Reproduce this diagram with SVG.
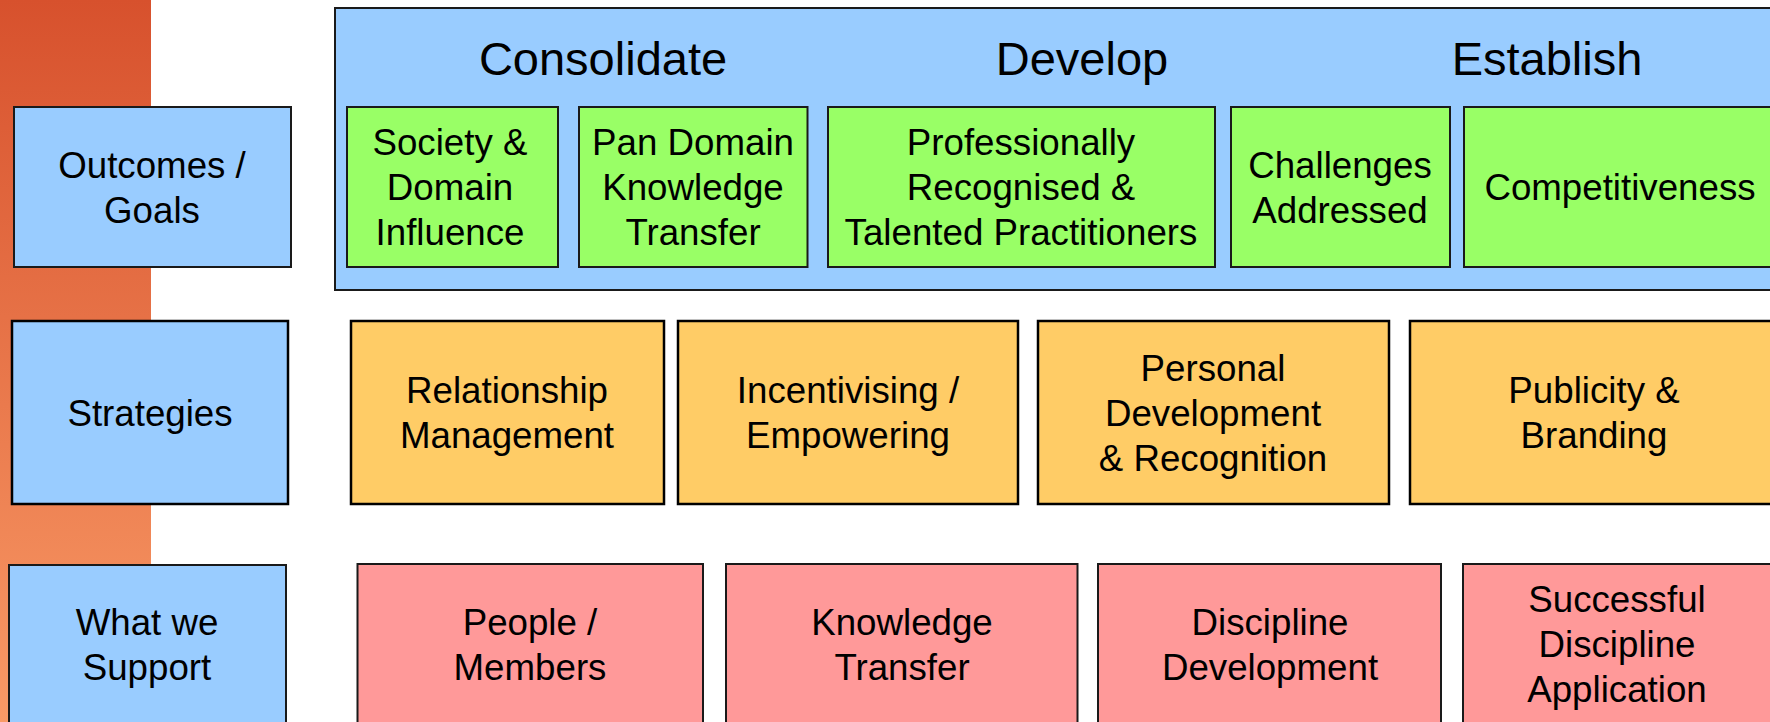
<svg xmlns="http://www.w3.org/2000/svg" width="1770" height="722" viewBox="0 0 1770 722">
<defs>
<linearGradient id="bar" x1="0" y1="0" x2="0" y2="1">
<stop offset="0" stop-color="#D7512D"/>
<stop offset="1" stop-color="#F99A66"/>
</linearGradient>
</defs>
<style>
text{font-family:"Liberation Sans",Arial,sans-serif;font-size:36.7px;fill:#000;text-anchor:middle}
.h{font-size:47px}
.blue{fill:#99CCFF;stroke:#1a1a1a;stroke-width:2}
.green{fill:#99FF66;stroke:#1a1a1a;stroke-width:2}
.orange{fill:#FFCC66;stroke:#000;stroke-width:2.5}
.red{fill:#FF9999;stroke:#1a1a1a;stroke-width:2}
</style>
<rect width="1770" height="722" fill="#fff"/>
<rect x="0" y="0" width="151" height="722" fill="url(#bar)"/>

<g id="label-outcomes"><rect class="blue" x="14" y="107" width="277" height="160"/><text x="152" y="177.5">Outcomes /</text><text x="152" y="222.5">Goals</text></g>
<g id="label-strategies"><rect class="blue" x="12" y="321" width="276" height="183" style="stroke:#000;stroke-width:2.5"/><text x="150" y="425.5">Strategies</text></g>
<g id="label-support"><rect class="blue" x="9" y="565" width="277" height="170"/><text x="147" y="635">What we</text><text x="147" y="680">Support</text></g>

<g id="outcomes-panel"><rect class="blue" x="335" y="8" width="1460" height="282"/>
<text class="h" x="603" y="75">Consolidate</text><text class="h" x="1082" y="75">Develop</text><text class="h" x="1547" y="75">Establish</text></g>

<g id="goal-society"><rect class="green" x="347" y="107" width="211" height="160"/><text x="450" y="155">Society &amp;</text><text x="450" y="200">Domain</text><text x="450" y="245">Influence</text></g>
<g id="goal-pan"><rect class="green" x="579" y="107" width="228.5" height="160"/><text x="693" y="155">Pan Domain</text><text x="693" y="200">Knowledge</text><text x="693" y="245">Transfer</text></g>
<g id="goal-prof"><rect class="green" x="828" y="107" width="387" height="160"/><text x="1021" y="155">Professionally</text><text x="1021" y="200">Recognised &amp;</text><text x="1021" y="245">Talented Practitioners</text></g>
<g id="goal-challenges"><rect class="green" x="1231" y="107" width="219" height="160"/><text x="1340" y="177.5">Challenges</text><text x="1340" y="222.5">Addressed</text></g>
<g id="goal-comp"><rect class="green" x="1464" y="107" width="330" height="160"/><text x="1620" y="200">Competitiveness</text></g>

<g id="strat-relationship"><rect class="orange" x="351" y="321" width="313" height="183"/><text x="507" y="403">Relationship</text><text x="507" y="448">Management</text></g>
<g id="strat-incent"><rect class="orange" x="678" y="321" width="340" height="183"/><text x="848" y="403">Incentivising /</text><text x="848" y="448">Empowering</text></g>
<g id="strat-personal"><rect class="orange" x="1038" y="321" width="351" height="183"/><text x="1213" y="380.5">Personal</text><text x="1213" y="425.5">Development</text><text x="1213" y="470.5">&amp; Recognition</text></g>
<g id="strat-publicity"><rect class="orange" x="1410" y="321" width="385" height="183"/><text x="1594" y="403">Publicity &amp;</text><text x="1594" y="448">Branding</text></g>

<g id="sup-people"><rect class="red" x="357.5" y="564" width="345.5" height="170"/><text x="530" y="635">People /</text><text x="530" y="680">Members</text></g>
<g id="sup-knowledge"><rect class="red" x="726" y="564" width="351.5" height="170"/><text x="902" y="635">Knowledge</text><text x="902" y="680">Transfer</text></g>
<g id="sup-discipline"><rect class="red" x="1098" y="564" width="343" height="170"/><text x="1270" y="635">Discipline</text><text x="1270" y="680">Development</text></g>
<g id="sup-successful"><rect class="red" x="1463" y="564" width="330" height="170"/><text x="1617" y="612">Successful</text><text x="1617" y="657">Discipline</text><text x="1617" y="702">Application</text></g>

<g id="connectors"></g>
</svg>
